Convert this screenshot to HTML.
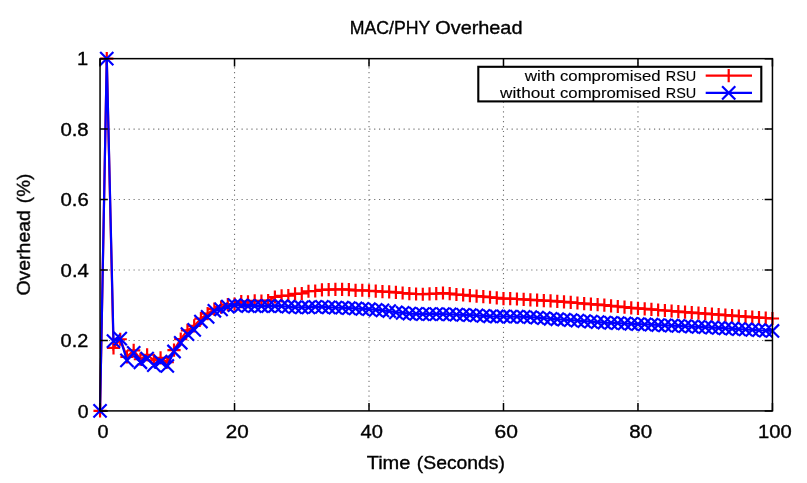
<!DOCTYPE html>
<html><head><meta charset="utf-8"><title>MAC/PHY Overhead</title>
<style>html,body{margin:0;padding:0;background:#fff;}svg{display:block;}</style>
</head><body>
<svg width="807" height="483" viewBox="0 0 807 483">
<rect width="807" height="483" fill="#fff"/>
<g stroke="#000" stroke-opacity="0.55" stroke-width="1.1" fill="none">
<path stroke-dasharray="1.2 3.71" d="M104.06 340.45H772.45"/>
<path stroke-dasharray="1.2 3.71" d="M104.06 270.00H772.45"/>
<path stroke-dasharray="1.2 3.71" d="M104.06 199.55H772.45"/>
<path stroke-dasharray="1.2 3.71" d="M104.06 129.10H772.45"/>
<path stroke-dasharray="1.2 3.70" d="M234.53 406.5V58.65"/>
<path stroke-dasharray="1.2 3.70" d="M369.01 406.5V58.65"/>
<path stroke-dasharray="1.2 3.70" d="M503.49 406.5V58.65"/>
<path stroke-dasharray="1.2 3.70" d="M637.97 406.5V58.65"/>
</g>
<rect x="478.3" y="66.8" width="283.00" height="34.60" fill="#fff" stroke="none"/>
<g fill="none" stroke="#ff0000" stroke-width="2.2" stroke-linejoin="miter">
<polyline points="100.05,410.90 106.77,58.65 113.50,347.87 120.22,339.27 126.95,356.78 133.67,350.44 140.39,359.25 147.12,354.77 153.84,360.31 160.57,357.84 167.29,362.25 174.01,350.09 180.74,339.16 187.46,330.35 194.19,325.88 200.91,318.55 207.63,313.54 214.36,309.14 221.08,307.20 227.81,304.63 234.53,304.06 241.25,301.63 247.98,301.74 254.70,300.82 261.43,301.03 268.15,300.54 274.87,297.02 281.60,295.96 288.32,295.54 295.05,293.84 301.77,293.49 308.49,291.24 315.22,291.02 321.94,289.83 328.67,289.65 335.39,289.47 342.11,289.47 348.84,289.62 355.56,290.39 362.29,290.25 369.01,290.74 375.73,291.06 382.46,291.59 389.18,291.94 395.91,292.47 402.63,293.00 409.35,293.53 416.08,293.99 422.80,294.23 429.53,293.88 436.25,293.70 442.97,293.00 449.70,293.70 456.42,294.48 463.15,294.94 469.87,295.71 476.59,296.17 483.32,296.70 490.04,297.23 496.77,297.93 503.49,298.64 510.21,298.64 516.94,299.02 523.66,299.40 530.39,299.78 537.11,300.17 543.83,300.55 550.56,300.93 557.28,301.32 564.01,301.87 570.73,302.42 577.45,302.98 584.18,303.53 590.90,304.08 597.63,304.64 604.35,305.19 611.07,305.84 617.80,306.49 624.52,307.14 631.25,307.79 637.97,308.43 644.69,308.95 651.42,309.47 658.14,309.98 664.87,310.50 671.59,311.02 678.31,311.53 685.04,312.05 691.76,312.57 698.49,313.09 705.21,313.58 711.93,314.07 718.66,314.57 725.38,315.06 732.11,315.55 738.83,316.05 745.55,316.54 752.28,317.03 759.00,317.53 765.73,318.02 772.45,318.51"/>
<path d="M93.45 410.90H106.65M100.05 404.30V417.50M100.17 58.65H113.37M106.77 52.05V65.25M106.90 347.87H120.10M113.50 341.27V354.47M113.62 339.27H126.82M120.22 332.67V345.87M120.35 356.78H133.55M126.95 350.18V363.38M127.07 350.44H140.27M133.67 343.84V357.04M133.79 359.25H146.99M140.39 352.65V365.85M140.52 354.77H153.72M147.12 348.17V361.37M147.24 360.31H160.44M153.84 353.71V366.91M153.97 357.84H167.17M160.57 351.24V364.44M160.69 362.25H173.89M167.29 355.64V368.85M167.41 350.09H180.61M174.01 343.49V356.69M174.14 339.16H187.34M180.74 332.56V345.76M180.86 330.35H194.06M187.46 323.75V336.95M187.59 325.88H200.79M194.19 319.28V332.48M194.31 318.55H207.51M200.91 311.95V325.15M201.03 313.54H214.23M207.63 306.94V320.14M207.76 309.14H220.96M214.36 302.54V315.74M214.48 307.20H227.68M221.08 300.60V313.80M221.21 304.63H234.41M227.81 298.03V311.23M227.93 304.06H241.13M234.53 297.46V310.66M234.65 301.63H247.85M241.25 295.03V308.23M241.38 301.74H254.58M247.98 295.14V308.34M248.10 300.82H261.30M254.70 294.22V307.42M254.83 301.03H268.03M261.43 294.43V307.63M261.55 300.54H274.75M268.15 293.94V307.14M268.27 297.02H281.47M274.87 290.42V303.62M275.00 295.96H288.20M281.60 289.36V302.56M281.72 295.54H294.92M288.32 288.94V302.14M288.45 293.84H301.65M295.05 287.24V300.44M295.17 293.49H308.37M301.77 286.89V300.09M301.89 291.24H315.09M308.49 284.64V297.84M308.62 291.02H321.82M315.22 284.42V297.62M315.34 289.83H328.54M321.94 283.23V296.43M322.07 289.65H335.27M328.67 283.05V296.25M328.79 289.47H341.99M335.39 282.87V296.07M335.51 289.47H348.71M342.11 282.87V296.07M342.24 289.62H355.44M348.84 283.02V296.22M348.96 290.39H362.16M355.56 283.79V296.99M355.69 290.25H368.89M362.29 283.65V296.85M362.41 290.74H375.61M369.01 284.14V297.34M369.13 291.06H382.33M375.73 284.46V297.66M375.86 291.59H389.06M382.46 284.99V298.19M382.58 291.94H395.78M389.18 285.34V298.54M389.31 292.47H402.51M395.91 285.87V299.07M396.03 293.00H409.23M402.63 286.40V299.60M402.75 293.53H415.95M409.35 286.93V300.13M409.48 293.99H422.68M416.08 287.39V300.59M416.20 294.23H429.40M422.80 287.63V300.83M422.93 293.88H436.13M429.53 287.28V300.48M429.65 293.70H442.85M436.25 287.10V300.30M436.37 293.00H449.57M442.97 286.40V299.60M443.10 293.70H456.30M449.70 287.10V300.30M449.82 294.48H463.02M456.42 287.88V301.08M456.55 294.94H469.75M463.15 288.34V301.54M463.27 295.71H476.47M469.87 289.11V302.31M469.99 296.17H483.19M476.59 289.57V302.77M476.72 296.70H489.92M483.32 290.10V303.30M483.44 297.23H496.64M490.04 290.63V303.83M490.17 297.93H503.37M496.77 291.33V304.53M496.89 298.64H510.09M503.49 292.04V305.24M503.61 298.64H516.81M510.21 292.04V305.24M510.34 299.02H523.54M516.94 292.42V305.62M517.06 299.40H530.26M523.66 292.80V306.00M523.79 299.78H536.99M530.39 293.18V306.38M530.51 300.17H543.71M537.11 293.57V306.77M537.23 300.55H550.43M543.83 293.95V307.15M543.96 300.93H557.16M550.56 294.33V307.53M550.68 301.32H563.88M557.28 294.72V307.92M557.41 301.87H570.61M564.01 295.27V308.47M564.13 302.42H577.33M570.73 295.82V309.02M570.85 302.98H584.05M577.45 296.38V309.58M577.58 303.53H590.78M584.18 296.93V310.13M584.30 304.08H597.50M590.90 297.48V310.68M591.03 304.64H604.23M597.63 298.04V311.24M597.75 305.19H610.95M604.35 298.59V311.79M604.47 305.84H617.67M611.07 299.24V312.44M611.20 306.49H624.40M617.80 299.89V313.09M617.92 307.14H631.12M624.52 300.54V313.74M624.65 307.79H637.85M631.25 301.19V314.39M631.37 308.43H644.57M637.97 301.83V315.03M638.09 308.95H651.29M644.69 302.35V315.55M644.82 309.47H658.02M651.42 302.87V316.07M651.54 309.98H664.74M658.14 303.38V316.58M658.27 310.50H671.47M664.87 303.90V317.10M664.99 311.02H678.19M671.59 304.42V317.62M671.71 311.53H684.91M678.31 304.93V318.13M678.44 312.05H691.64M685.04 305.45V318.65M685.16 312.57H698.36M691.76 305.97V319.17M691.89 313.09H705.09M698.49 306.49V319.69M698.61 313.58H711.81M705.21 306.98V320.18M705.33 314.07H718.53M711.93 307.47V320.67M712.06 314.57H725.26M718.66 307.97V321.17M718.78 315.06H731.98M725.38 308.46V321.66M725.51 315.55H738.71M732.11 308.95V322.15M732.23 316.05H745.43M738.83 309.45V322.65M738.95 316.54H752.15M745.55 309.94V323.14M745.68 317.03H758.88M752.28 310.43V323.63M752.40 317.53H765.60M759.00 310.93V324.13M759.13 318.02H772.33M765.73 311.42V324.62M765.85 318.51H779.05M772.45 311.91V325.11"/>
<path d="M705.7 75.6H752M722.1 75.6H735.3000000000001M728.7 69.0V82.19999999999999"/>
</g>
<g fill="none" stroke="#0000ff" stroke-width="2.2" stroke-linejoin="miter">
<polyline points="100.05,410.90 106.77,58.65 113.50,341.10 120.22,338.60 126.95,360.31 133.67,352.91 140.39,362.25 147.12,358.54 153.84,365.06 160.57,361.72 167.29,365.95 174.01,351.50 180.74,342.76 187.46,334.09 194.19,329.89 200.91,321.51 207.63,316.89 214.36,310.79 221.08,309.38 227.81,306.57 234.53,305.16 241.25,305.68 247.98,306.04 254.70,306.04 261.43,306.04 268.15,306.04 274.87,306.04 281.60,306.21 288.32,306.74 295.05,307.24 301.77,307.45 308.49,307.45 315.22,306.92 321.94,306.92 328.67,307.27 335.39,307.66 342.11,307.73 348.84,308.10 355.56,308.47 362.29,308.84 369.01,309.21 375.73,309.82 382.46,310.43 389.18,311.04 395.91,312.35 402.63,312.94 409.35,313.54 416.08,313.86 422.80,314.14 429.53,314.14 436.25,314.14 442.97,314.14 449.70,314.39 456.42,314.64 463.15,314.88 469.87,315.13 476.59,315.38 483.32,315.83 490.04,316.29 496.77,316.50 503.49,316.47 510.21,316.75 516.94,316.57 523.66,316.89 530.39,317.21 537.11,317.63 543.83,318.12 550.56,318.76 557.28,319.25 564.01,319.72 570.73,320.19 577.45,320.66 584.18,321.12 590.90,321.59 597.63,322.06 604.35,322.53 611.07,322.85 617.80,323.16 624.52,323.48 631.25,323.80 637.97,324.12 644.69,324.42 651.42,324.72 658.14,325.02 664.87,325.32 671.59,325.62 678.31,325.92 685.04,326.23 691.76,326.53 698.49,326.83 705.21,327.21 711.93,327.58 718.66,327.96 725.38,328.34 732.11,328.72 738.83,329.10 745.55,329.48 752.28,329.85 759.00,330.23 765.73,330.61 772.45,330.99"/>
<path d="M93.45 404.30L106.65 417.50M93.45 417.50L106.65 404.30M100.17 52.05L113.37 65.25M100.17 65.25L113.37 52.05M106.90 334.50L120.10 347.70M106.90 347.70L120.10 334.50M113.62 332.00L126.82 345.20M113.62 345.20L126.82 332.00M120.35 353.71L133.55 366.91M120.35 366.91L133.55 353.71M127.07 346.31L140.27 359.51M127.07 359.51L140.27 346.31M133.79 355.64L146.99 368.85M133.79 368.85L146.99 355.64M140.52 351.94L153.72 365.14M140.52 365.14L153.72 351.94M147.24 358.46L160.44 371.66M147.24 371.66L160.44 358.46M153.97 355.12L167.17 368.32M153.97 368.32L167.17 355.12M160.69 359.35L173.89 372.55M160.69 372.55L173.89 359.35M167.41 344.90L180.61 358.10M167.41 358.10L180.61 344.90M174.14 336.16L187.34 349.36M174.14 349.36L187.34 336.16M180.86 327.49L194.06 340.69M180.86 340.69L194.06 327.49M187.59 323.29L200.79 336.49M187.59 336.49L200.79 323.29M194.31 314.91L207.51 328.11M194.31 328.11L207.51 314.91M201.03 310.29L214.23 323.49M201.03 323.49L214.23 310.29M207.76 304.19L220.96 317.39M207.76 317.39L220.96 304.19M214.48 302.78L227.68 315.99M214.48 315.99L227.68 302.78M221.21 299.97L234.41 313.17M221.21 313.17L234.41 299.97M227.93 298.56L241.13 311.76M227.93 311.76L241.13 298.56M234.65 299.08L247.85 312.28M234.65 312.28L247.85 299.08M241.38 299.44L254.58 312.64M241.38 312.64L254.58 299.44M248.10 299.44L261.30 312.64M248.10 312.64L261.30 299.44M254.83 299.44L268.03 312.64M254.83 312.64L268.03 299.44M261.55 299.44L274.75 312.64M261.55 312.64L274.75 299.44M268.27 299.44L281.47 312.64M268.27 312.64L281.47 299.44M275.00 299.61L288.20 312.81M275.00 312.81L288.20 299.61M281.72 300.14L294.92 313.34M281.72 313.34L294.92 300.14M288.45 300.64L301.65 313.84M288.45 313.84L301.65 300.64M295.17 300.85L308.37 314.05M295.17 314.05L308.37 300.85M301.89 300.85L315.09 314.05M301.89 314.05L315.09 300.85M308.62 300.32L321.82 313.52M308.62 313.52L321.82 300.32M315.34 300.32L328.54 313.52M315.34 313.52L328.54 300.32M322.07 300.67L335.27 313.87M322.07 313.87L335.27 300.67M328.79 301.06L341.99 314.26M328.79 314.26L341.99 301.06M335.51 301.13L348.71 314.33M335.51 314.33L348.71 301.13M342.24 301.50L355.44 314.70M342.24 314.70L355.44 301.50M348.96 301.87L362.16 315.07M348.96 315.07L362.16 301.87M355.69 302.24L368.89 315.44M355.69 315.44L368.89 302.24M362.41 302.61L375.61 315.81M362.41 315.81L375.61 302.61M369.13 303.22L382.33 316.42M369.13 316.42L382.33 303.22M375.86 303.83L389.06 317.03M375.86 317.03L389.06 303.83M382.58 304.44L395.78 317.64M382.58 317.64L395.78 304.44M389.31 305.75L402.51 318.95M389.31 318.95L402.51 305.75M396.03 306.34L409.23 319.54M396.03 319.54L409.23 306.34M402.75 306.94L415.95 320.14M402.75 320.14L415.95 306.94M409.48 307.26L422.68 320.46M409.48 320.46L422.68 307.26M416.20 307.54L429.40 320.74M416.20 320.74L429.40 307.54M422.93 307.54L436.13 320.74M422.93 320.74L436.13 307.54M429.65 307.54L442.85 320.74M429.65 320.74L442.85 307.54M436.37 307.54L449.57 320.74M436.37 320.74L449.57 307.54M443.10 307.79L456.30 320.99M443.10 320.99L456.30 307.79M449.82 308.04L463.02 321.24M449.82 321.24L463.02 308.04M456.55 308.28L469.75 321.48M456.55 321.48L469.75 308.28M463.27 308.53L476.47 321.73M463.27 321.73L476.47 308.53M469.99 308.78L483.19 321.98M469.99 321.98L483.19 308.78M476.72 309.23L489.92 322.43M476.72 322.43L489.92 309.23M483.44 309.69L496.64 322.89M483.44 322.89L496.64 309.69M490.17 309.90L503.37 323.10M490.17 323.10L503.37 309.90M496.89 309.87L510.09 323.07M496.89 323.07L510.09 309.87M503.61 310.15L516.81 323.35M503.61 323.35L516.81 310.15M510.34 309.97L523.54 323.17M510.34 323.17L523.54 309.97M517.06 310.29L530.26 323.49M517.06 323.49L530.26 310.29M523.79 310.61L536.99 323.81M523.79 323.81L536.99 310.61M530.51 311.03L543.71 324.23M530.51 324.23L543.71 311.03M537.23 311.52L550.43 324.72M537.23 324.72L550.43 311.52M543.96 312.16L557.16 325.36M543.96 325.36L557.16 312.16M550.68 312.65L563.88 325.85M550.68 325.85L563.88 312.65M557.41 313.12L570.61 326.32M557.41 326.32L570.61 313.12M564.13 313.59L577.33 326.79M564.13 326.79L577.33 313.59M570.85 314.06L584.05 327.26M570.85 327.26L584.05 314.06M577.58 314.52L590.78 327.72M577.58 327.72L590.78 314.52M584.30 314.99L597.50 328.19M584.30 328.19L597.50 314.99M591.03 315.46L604.23 328.66M591.03 328.66L604.23 315.46M597.75 315.93L610.95 329.13M597.75 329.13L610.95 315.93M604.47 316.25L617.67 329.45M604.47 329.45L617.67 316.25M611.20 316.56L624.40 329.76M611.20 329.76L624.40 316.56M617.92 316.88L631.12 330.08M617.92 330.08L631.12 316.88M624.65 317.20L637.85 330.40M624.65 330.40L637.85 317.20M631.37 317.52L644.57 330.72M631.37 330.72L644.57 317.52M638.09 317.82L651.29 331.02M638.09 331.02L651.29 317.82M644.82 318.12L658.02 331.32M644.82 331.32L658.02 318.12M651.54 318.42L664.74 331.62M651.54 331.62L664.74 318.42M658.27 318.72L671.47 331.92M658.27 331.92L671.47 318.72M664.99 319.02L678.19 332.22M664.99 332.22L678.19 319.02M671.71 319.32L684.91 332.52M671.71 332.52L684.91 319.32M678.44 319.63L691.64 332.83M678.44 332.83L691.64 319.63M685.16 319.93L698.36 333.13M685.16 333.13L698.36 319.93M691.89 320.23L705.09 333.43M691.89 333.43L705.09 320.23M698.61 320.61L711.81 333.81M698.61 333.81L711.81 320.61M705.33 320.98L718.53 334.18M705.33 334.18L718.53 320.98M712.06 321.36L725.26 334.56M712.06 334.56L725.26 321.36M718.78 321.74L731.98 334.94M718.78 334.94L731.98 321.74M725.51 322.12L738.71 335.32M725.51 335.32L738.71 322.12M732.23 322.50L745.43 335.70M732.23 335.70L745.43 322.50M738.95 322.88L752.15 336.08M738.95 336.08L752.15 322.88M745.68 323.25L758.88 336.45M745.68 336.45L758.88 323.25M752.40 323.63L765.60 336.83M752.40 336.83L765.60 323.63M759.13 324.01L772.33 337.21M759.13 337.21L772.33 324.01M765.85 324.39L779.05 337.59M765.85 337.59L779.05 324.39"/>
<path d="M705.7 92.85H752M722.1 86.25L735.3000000000001 99.44999999999999M722.1 99.44999999999999L735.3000000000001 86.25"/>
</g>
<g stroke="#000" stroke-width="1.5" fill="none">
<path d="M100.05 410.90h7.8M772.45 410.90h-7.8M100.05 340.45h7.8M772.45 340.45h-7.8M100.05 270.00h7.8M772.45 270.00h-7.8M100.05 199.55h7.8M772.45 199.55h-7.8M100.05 129.10h7.8M772.45 129.10h-7.8M100.05 58.65h7.8M772.45 58.65h-7.8M100.05 410.90v-7.8M100.05 58.65v7.8M234.53 410.90v-7.8M234.53 58.65v7.8M369.01 410.90v-7.8M369.01 58.65v7.8M503.49 410.90v-7.8M503.49 58.65v7.8M637.97 410.90v-7.8M637.97 58.65v7.8M772.45 410.90v-7.8M772.45 58.65v7.8"/>
<rect x="100.05" y="58.65" width="672.40" height="352.25"/>
</g>
<rect x="478.3" y="66.8" width="283.00" height="34.60" fill="none" stroke="#000" stroke-width="2.1"/>
<g font-family="'Liberation Sans', sans-serif" fill="#000" stroke="#000" stroke-width="0.35" opacity="0.999">
<text transform="translate(349.75 33.80) scale(1.0064 1)" font-size="17.6">MAC/PHY</text>
<text transform="translate(435.28 33.80) scale(1.1285 1)" font-size="17.6">Overhead</text>
<text transform="translate(366.67 468.70) scale(1.1390 1)" font-size="17.6">Time</text>
<text transform="translate(416.83 468.70) scale(1.0995 1)" font-size="17.6">(Seconds)</text>
<g transform="translate(29.9 0) rotate(-90)">
<text transform="translate(-295.60 0.00) scale(1.1073 1)" font-size="17.6">Overhead</text>
<text transform="translate(-203.14 0.00) scale(1.0733 1)" font-size="17.6">(%)</text>
</g>
<text transform="translate(97.53 437.70) scale(1.1259 1)" font-size="17.6">0</text>
<text transform="translate(225.87 437.70) scale(1.1737 1)" font-size="17.6">20</text>
<text transform="translate(360.47 437.70) scale(1.1421 1)" font-size="17.6">40</text>
<text transform="translate(494.55 437.70) scale(1.1958 1)" font-size="17.6">60</text>
<text transform="translate(629.33 437.70) scale(1.1656 1)" font-size="17.6">80</text>
<text transform="translate(758.09 437.70) scale(1.1481 1)" font-size="17.6">100</text>
<text transform="translate(77.64 417.70) scale(1.1022 1)" font-size="17.6">0</text>
<text transform="translate(60.62 347.25) scale(1.1292 1)" font-size="17.6">0.2</text>
<text transform="translate(60.61 276.80) scale(1.1539 1)" font-size="17.6">0.4</text>
<text transform="translate(60.50 206.35) scale(1.1565 1)" font-size="17.6">0.6</text>
<text transform="translate(60.40 135.90) scale(1.1577 1)" font-size="17.6">0.8</text>
<text transform="translate(77.10 65.45) scale(1.1410 1)" font-size="17.6">1</text>
<text transform="translate(524.70 81.00) scale(1.2250 1)" font-size="14" stroke-width="0.12">with</text>
<text transform="translate(559.95 81.00) scale(1.1988 1)" font-size="14" stroke-width="0.12">compromised</text>
<text transform="translate(665.74 81.00) scale(1.0325 1)" font-size="14" stroke-width="0.12">RSU</text>
<text transform="translate(500.10 97.90) scale(1.2322 1)" font-size="14" stroke-width="0.12">without</text>
<text transform="translate(559.95 97.90) scale(1.1988 1)" font-size="14" stroke-width="0.12">compromised</text>
<text transform="translate(665.74 97.90) scale(1.0325 1)" font-size="14" stroke-width="0.12">RSU</text>
</g>
</svg>
</body></html>
